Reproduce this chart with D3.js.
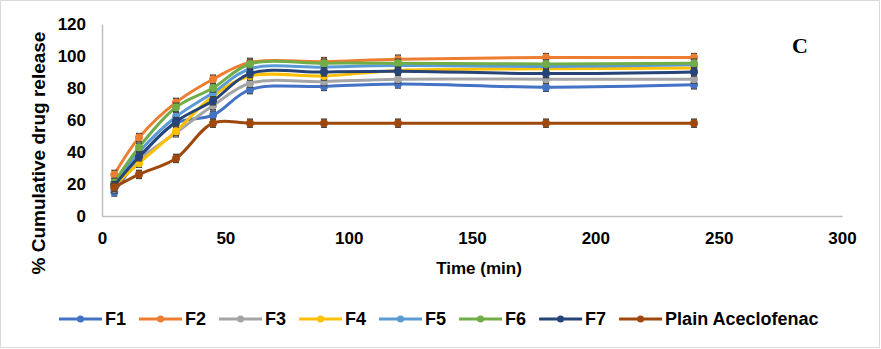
<!DOCTYPE html>
<html>
<head>
<meta charset="utf-8">
<script src="https://cdn.jsdelivr.net/npm/d3@7"></script>
<style>
  body { margin: 0; background: #fff; }
  svg text { font-family: "Liberation Sans", Arial, sans-serif; font-weight: bold; fill: #000; }
</style>
</head>
<body>
<svg id="chart" width="881" height="349"></svg>
<script>
// time points (min)
var times = [5, 15, 30, 45, 60, 90, 120, 180, 240];

// % cumulative release per formulation
var f1 = [15, 36, 58, 63, 79, 81, 82.5, 80.5, 82];
var f2 = [26, 49, 71, 85.5, 96, 96.5, 98, 99, 99];
var f3 = [17, 35, 52, 69, 83, 84, 85.5, 85.5, 85.5];
var f4 = [19, 33, 53, 75, 87.5, 87.5, 91, 92, 92.5];
var f5 = [20, 40, 62, 77, 92, 93, 94, 93.5, 94.5];
var f6 = [21, 43, 68, 80, 95, 95.5, 95.5, 95, 95.5];
var f7 = [19, 37, 59, 72, 89, 90, 90.5, 89, 90];
var plain = [18, 26, 36, 58, 58, 58, 58, 58, 58];

var seriesNames = ['F1', 'F2', 'F3', 'F4', 'F5', 'F6', 'F7', 'Plain Aceclofenac'];
var seriesValues = [f1, f2, f3, f4, f5, f6, f7, plain];
var seriesColors = ['#4472c4', '#ed7d31', '#a5a5a5', '#ffc000', '#5b9bd5', '#70ad47', '#264478', '#9e480e'];

var xTicks = [0, 50, 100, 150, 200, 250, 300];
var yTicks = [0, 20, 40, 60, 80, 100, 120];
var errorSize = 2.5; // error bar half height, % units

var svg = d3.select('#chart');

// outer frame
svg.append('rect')
    .attr('x', 0.5).attr('y', 0.5)
    .attr('width', 879).attr('height', 347)
    .attr('fill', '#fff')
    .attr('stroke', '#d9d9d9');

var x = d3.scaleLinear().domain([0, 300]).range([102, 842]);
var y = d3.scaleLinear().domain([0, 120]).range([216, 24]);

// axes: just the lines plus bold labels
var xAxis = svg.append('g')
    .attr('transform', 'translate(0,216)')
    .call(d3.axisBottom(x).tickValues(xTicks).tickSize(0).tickPadding(16));
var yAxis = svg.append('g')
    .attr('transform', 'translate(102,0)')
    .call(d3.axisLeft(y).tickValues(yTicks).tickSize(0).tickPadding(16));

[xAxis, yAxis].forEach(a => {
    a.select('.domain').attr('stroke', '#bfbfbf').attr('stroke-width', 1.5);
    a.selectAll('text')
        .attr('font-family', '"Liberation Sans", Arial, sans-serif')
        .attr('font-weight', 'bold')
        .attr('font-size', 17)
        .attr('fill', '#000');
});

// axis titles
svg.append('text')
    .attr('x', 479).attr('y', 274)
    .attr('text-anchor', 'middle')
    .style('font-size', '17px')
    .text('Time (min)');

svg.append('text')
    .attr('transform', 'translate(45,153) rotate(-90)')
    .attr('text-anchor', 'middle')
    .style('font-size', '19px')
    .text('% Cumulative drug release');

// panel letter
svg.append('text')
    .attr('x', 800).attr('y', 53)
    .attr('text-anchor', 'middle')
    .style('font-family', '"Liberation Serif", "Times New Roman", serif')
    .style('font-size', '22px')
    .text('C');

// series
var line = d3.line()
    .x((d, i) => x(times[i]))
    .y(d => y(d))
    .curve(d3.curveCatmullRom.alpha(0.5));

var series = svg.selectAll('.series')
    .data(seriesValues)
    .enter().append('g')
    .classed('series', true);

series.append('path')
    .attr('d', d => line(d))
    .attr('fill', 'none')
    .attr('stroke', (d, i) => seriesColors[i])
    .attr('stroke-width', 3)
    .attr('stroke-linecap', 'round');

// error bars
series.each(function(vals, si) {
    var g = d3.select(this);
    var pts = g.selectAll('.err')
        .data(vals).enter().append('g')
        .attr('class', 'err')
        .attr('stroke', '#404040')
        .attr('stroke-width', 1.5);
    pts.append('line')
        .attr('x1', (d, i) => x(times[i])).attr('x2', (d, i) => x(times[i]))
        .attr('y1', d => y(d - errorSize)).attr('y2', d => y(d + errorSize));
    pts.append('line')
        .attr('x1', (d, i) => x(times[i]) - 3).attr('x2', (d, i) => x(times[i]) + 3)
        .attr('y1', d => y(d + errorSize)).attr('y2', d => y(d + errorSize));
    pts.append('line')
        .attr('x1', (d, i) => x(times[i]) - 3).attr('x2', (d, i) => x(times[i]) + 3)
        .attr('y1', d => y(d - errorSize)).attr('y2', d => y(d - errorSize));
});

// markers on top
series.each(function(vals, si) {
    d3.select(this).selectAll('circle')
        .data(vals).enter().append('circle')
        .attr('cx', (d, i) => x(times[i]))
        .attr('cy', d => y(d))
        .attr('r', 4)
        .attr('fill', seriesColors[si]);
});

// legend
var legend = svg.append('g').attr('transform', 'translate(59,319)');
var lx = 0;
seriesNames.forEach((name, i) => {
    var item = legend.append('g').attr('transform', `translate(${lx},0)`);
    item.append('line')
        .attr('x1', 0).attr('x2', 43)
        .attr('stroke', seriesColors[i])
        .attr('stroke-width', 3);
    item.append('circle')
        .attr('cx', 21.5).attr('r', 3.5)
        .attr('fill', seriesColors[i]);
    var t = item.append('text')
        .attr('x', 46).attr('y', 6)
        .style('font-size', '18px')
        .text(name);
    lx += 46 + t.node().getComputedTextLength() + 13;
});
</script>
</body>
</html>
